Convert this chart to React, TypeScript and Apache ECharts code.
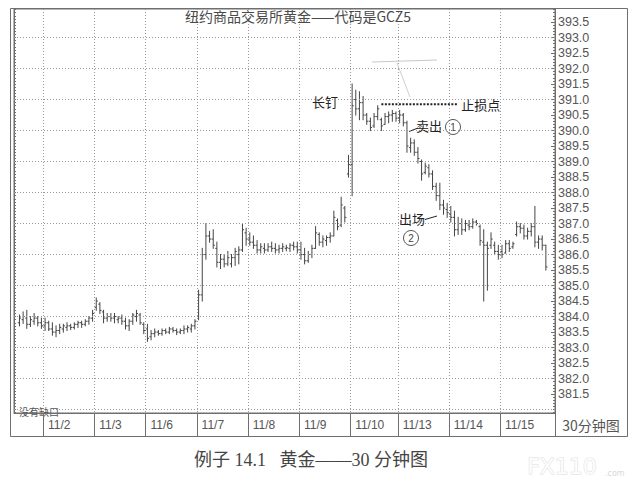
import React, { useEffect, useRef } from 'react';
import * as echarts from 'echarts';

// Trading days shown on the x axis and the number of 30-minute slots each occupies
const dayLabels = ['11/1', '11/2', '11/3', '11/6', '11/7', '11/8', '11/9', '11/10', '11/13', '11/14', '11/15'];
const barsPerDay = [8, 14, 14, 14, 14, 14, 14, 13, 14, 14, 15];
const firstBarSlot = 1;

// OHLC values (30-minute bars)
const opens = [
  383.8, 383.9, 383.95, 383.75, 383.85, 383.95, 383.8,
  383.7, 383.8, 383.6, 383.5, 383.55, 383.6, 383.65, 383.7, 383.65, 383.75, 383.8, 383.75, 383.85, 383.95,
  384.3, 384.4, 384.15, 383.95, 384.0, 383.95, 383.9, 383.95, 383.85, 383.7, 383.85, 384.0, 384.05, 383.75,
  383.6, 383.35, 383.45, 383.5, 383.45, 383.55, 383.5, 383.6, 383.55, 383.5, 383.55, 383.6, 383.6, 383.7,
  384.0, 384.7, 386.0, 386.6, 386.5, 386.2, 385.75, 385.85, 385.7, 385.7, 385.9, 386.0, 386.15, 386.7,
  386.5, 386.4, 386.3, 386.15, 386.2, 386.15, 386.25, 386.2, 386.15, 386.2, 386.2, 386.2, 386.3, 386.25,
  386.15, 386.0, 385.8, 386.0, 386.2, 386.65, 386.4, 386.45, 386.55, 386.6, 387.1, 386.95, 387.5, 388.6,
  388.9, 391.0, 390.7, 390.9, 390.5, 390.3, 390.15, 390.45, 390.35, 390.2, 390.45, 390.5, 390.55,
  390.4, 390.5, 390.25, 389.45, 389.6, 389.3, 389.0, 388.65, 388.8, 388.6, 388.2, 387.9, 387.6, 387.45,
  387.3, 387.2, 386.8, 387.0, 386.8, 386.95, 386.9, 387.05, 386.9, 386.4, 386.3, 386.3, 386.3, 386.1,
  386.1, 386.05, 386.35, 386.25, 386.65, 386.9, 386.85, 386.6, 386.75, 386.9, 386.4, 386.5, 386.3,
];
const highs = [
  384.05, 384.15, 384.2, 384.0, 384.1, 384.0, 383.95,
  383.95, 383.85, 383.8, 383.7, 383.75, 383.75, 383.8, 383.75, 383.8, 383.85, 383.85, 383.9, 384.0, 384.2,
  384.6, 384.45, 384.2, 384.1, 384.1, 384.1, 384.0, 384.05, 383.95, 383.9, 384.1, 384.2, 384.1, 383.8,
  383.75, 383.55, 383.6, 383.55, 383.6, 383.6, 383.65, 383.65, 383.6, 383.6, 383.7, 383.7, 383.75, 383.9,
  384.85, 386.2, 387.0, 386.75, 386.8, 386.4, 386.0, 386.0, 386.1, 386.0, 386.2, 386.25, 387.0, 386.85,
  386.7, 386.6, 386.45, 386.35, 386.35, 386.35, 386.4, 386.35, 386.3, 386.35, 386.3, 386.35, 386.4, 386.4,
  386.4, 386.2, 386.1, 386.3, 386.9, 386.7, 386.6, 386.6, 386.7, 387.4, 387.15, 387.85, 387.55, 389.2,
  391.5, 391.3, 391.25, 391.1, 390.55, 390.4, 390.55, 390.8, 390.4, 390.55, 390.6, 390.65, 390.6,
  390.65, 390.55, 390.3, 389.75, 389.7, 389.45, 389.05, 388.95, 388.9, 388.7, 388.3, 388.3, 387.75, 387.65,
  387.55, 387.4, 387.2, 387.15, 387.1, 387.1, 387.15, 387.1, 386.95, 386.8, 386.4, 386.7, 386.4, 386.3,
  386.3, 386.45, 386.45, 386.4, 387.05, 387.0, 386.95, 386.85, 387.0, 387.55, 386.6, 386.6, 386.3,
];
const lows = [
  383.7, 383.78, 383.62, 383.68, 383.75, 383.7, 383.62,
  383.55, 383.55, 383.4, 383.35, 383.45, 383.5, 383.55, 383.58, 383.6, 383.65, 383.65, 383.7, 383.75, 383.85,
  384.2, 384.1, 383.8, 383.85, 383.85, 383.8, 383.8, 383.75, 383.6, 383.55, 383.75, 383.85, 383.75, 383.45,
  383.2, 383.25, 383.35, 383.4, 383.4, 383.45, 383.45, 383.5, 383.42, 383.45, 383.45, 383.5, 383.5, 383.6,
  383.9, 384.5, 385.85, 386.4, 386.2, 385.6, 385.55, 385.6, 385.65, 385.6, 385.65, 385.7, 386.1, 386.3,
  386.3, 386.2, 386.05, 386.05, 386.05, 386.1, 386.1, 386.05, 386.05, 386.1, 386.12, 386.1, 386.15, 386.05,
  385.85, 385.7, 385.75, 385.9, 386.2, 386.3, 386.25, 386.3, 386.4, 386.6, 386.8, 386.9, 387.05, 388.5,
  387.9, 390.5, 390.35, 390.35, 390.2, 390.0, 390.1, 390.35, 390.0, 390.2, 390.25, 390.3, 390.3,
  390.25, 390.15, 389.3, 389.3, 389.2, 388.95, 388.4, 388.6, 388.5, 388.1, 387.75, 387.45, 387.3, 387.2,
  387.05, 386.6, 386.65, 386.65, 386.75, 386.8, 386.85, 386.95, 386.3, 384.5, 384.85, 386.2, 386.0, 385.85,
  385.9, 386.05, 386.1, 386.2, 386.6, 386.7, 386.5, 386.5, 386.6, 386.25, 386.2, 386.15, 385.5,
];
const closes = [
  383.95, 384.0, 383.75, 383.9, 383.95, 383.8, 383.7,
  383.8, 383.6, 383.5, 383.55, 383.65, 383.7, 383.7, 383.65, 383.75, 383.8, 383.75, 383.85, 383.95, 384.1,
  384.5, 384.2, 383.95, 384.0, 383.95, 384.0, 383.95, 383.85, 383.7, 383.85, 384.05, 384.1, 383.8, 383.55,
  383.3, 383.45, 383.5, 383.45, 383.55, 383.5, 383.6, 383.55, 383.5, 383.55, 383.6, 383.65, 383.7, 383.85,
  384.7, 386.0, 386.6, 386.5, 386.3, 385.75, 385.85, 385.7, 385.9, 385.9, 386.1, 386.15, 386.8, 386.5,
  386.4, 386.3, 386.15, 386.25, 386.15, 386.25, 386.2, 386.15, 386.2, 386.25, 386.22, 386.3, 386.25, 386.15,
  386.0, 385.8, 386.0, 386.2, 386.7, 386.4, 386.5, 386.55, 386.6, 387.2, 386.9, 387.6, 387.2, 388.9,
  390.8, 390.7, 390.9, 390.5, 390.3, 390.1, 390.45, 390.7, 390.15, 390.45, 390.5, 390.55, 390.4,
  390.5, 390.25, 389.5, 389.6, 389.3, 389.1, 388.6, 388.85, 388.6, 388.2, 387.9, 387.6, 387.5, 387.35,
  387.2, 386.8, 387.0, 386.8, 387.0, 386.9, 387.05, 387.0, 386.45, 386.3, 386.2, 386.5, 386.1, 386.0,
  386.0, 386.35, 386.2, 386.35, 386.9, 386.85, 386.6, 386.75, 386.9, 386.4, 386.5, 386.3, 385.6,
];

// Price axis labels (right side) and dotted grid levels
const priceLabels = [
  381.5, 382.0, 382.5, 383.0, 383.5, 384.0, 384.5, 385.0, 385.5, 386.0, 386.5, 387.0, 387.5,
  388.0, 388.5, 389.0, 389.5, 390.0, 390.5, 391.0, 391.5, 392.0, 392.5, 393.0, 393.5,
];
const gridLevels = [381, 382, 383, 384, 385, 386, 387, 388, 389, 390, 391, 392, 393];
const stopPrice = 390.85;

const Y_MIN = 380.89;
const Y_MAX = 393.92;

const GRAY = '#6f6f6f';
const TEXT = '#555';
const SANS = "'Liberation Sans Narrow', 'Liberation Sans', Arial, sans-serif";
const CJK = "'Noto Sans CJK SC', 'Noto Sans', sans-serif";

export default function App() {
  const ref = useRef<HTMLDivElement>(null);

  useEffect(() => {
    if (!ref.current) return;
    const chart = echarts.init(ref.current, null, { renderer: 'svg' });

    const categories: string[] = [];
    const dayStarts: number[] = [];
    dayLabels.forEach((d, k) => {
      dayStarts.push(categories.length);
      for (let j = 0; j < barsPerDay[k]; j++) categories.push(d);
    });
    const isLabeledStart = (i: number) => i > 0 && dayStarts.includes(i);

    const bars = opens.map((o, k) => [k + firstBarSlot, o, highs[k], lows[k], closes[k]]);

    const minorTicks: number[] = [];
    for (let v = Math.ceil(Y_MIN * 10); v <= Math.floor(Y_MAX * 10); v++) minorTicks.push(v / 10);

    const option: any = {
      animation: false,
      backgroundColor: '#fff',
      grid: { left: 14, right: 77, top: 9, bottom: 77, show: true, borderColor: GRAY, borderWidth: 1 },
      xAxis: {
        type: 'category',
        data: categories,
        boundaryGap: true,
        axisLine: { show: true, lineStyle: { color: GRAY } },
        axisTick: { show: true, interval: (i: number) => isLabeledStart(i), length: 24, lineStyle: { color: GRAY } },
        axisLabel: {
          show: true,
          interval: (i: number) => isLabeledStart(i),
          align: 'left',
          padding: [0, 0, 0, 3],
          margin: 6,
          color: TEXT,
          fontSize: 12,
          fontFamily: SANS,
        },
        splitLine: {
          show: true,
          interval: (i: number) => isLabeledStart(i),
          lineStyle: { color: '#9a9a9a', type: [1, 2], width: 1 },
        },
      },
      yAxis: [
        {
          type: 'value', position: 'right', min: Y_MIN, max: Y_MAX,
          axisLine: { show: true, lineStyle: { color: GRAY } },
          axisTick: { show: true, inside: true, length: 4, customValues: priceLabels, lineStyle: { color: GRAY } },
          axisLabel: {
            show: true, customValues: priceLabels, formatter: (v: number) => v.toFixed(1),
            margin: 3, color: TEXT, fontSize: 12.5, fontFamily: SANS,
          },
          splitLine: { show: false },
        },
        {
          type: 'value', position: 'right', min: Y_MIN, max: Y_MAX,
          axisLine: { show: false },
          axisTick: { show: true, inside: true, length: 2, customValues: minorTicks, lineStyle: { color: GRAY } },
          axisLabel: { show: false },
          splitLine: { show: false },
        },
        {
          type: 'value', position: 'left', min: Y_MIN, max: Y_MAX,
          axisLine: { show: true, lineStyle: { color: GRAY } },
          axisTick: { show: true, inside: true, length: 2, customValues: minorTicks, lineStyle: { color: GRAY } },
          axisLabel: { show: false },
          splitLine: { show: false },
        },
      ],
      series: [
        {
          type: 'custom',
          yAxisIndex: 0,
          data: bars,
          encode: { x: 0, y: [1, 2, 3, 4] },
          renderItem: (params: any, api: any) => {
            const i = api.value(0);
            const o = api.value(1), h = api.value(2), l = api.value(3), c = api.value(4);
            const ph = api.coord([i, h]);
            const pl = api.coord([i, l]);
            const po = api.coord([i, o]);
            const pc = api.coord([i, c]);
            const st = { stroke: '#454545', lineWidth: 1 };
            const t = 1.6;
            return {
              type: 'group',
              children: [
                { type: 'line', shape: { x1: ph[0], y1: ph[1] - 0.5, x2: pl[0], y2: pl[1] + 0.5 }, style: st },
                { type: 'line', shape: { x1: po[0] - t, y1: po[1], x2: po[0], y2: po[1] }, style: st },
                { type: 'line', shape: { x1: pc[0], y1: pc[1], x2: pc[0] + t, y2: pc[1] }, style: st },
              ],
            };
          },
          markLine: {
            silent: true,
            symbol: ['none', 'none'],
            label: { show: false },
            lineStyle: { color: '#9a9a9a', type: [1, 2], width: 1 },
            data: gridLevels.map((p) => ({ yAxis: p })),
          },
          z: 3,
        },
      ],
    };
    chart.setOption(option);

    const px = (i: number, p: number) => chart.convertToPixel({ gridIndex: 0 }, [i, p]) as number[];
    const stopA = px(100, stopPrice);
    const stopB = px(120.6, stopPrice);

    chart.setOption({
      graphic: [
        { type: 'rect', shape: { x: 10.5, y: 8.5, width: 617, height: 428 }, style: { fill: 'none', stroke: GRAY, lineWidth: 1 }, silent: true },
        { type: 'line', shape: { x1: 555.5, y1: 413, x2: 555.5, y2: 437 }, style: { stroke: GRAY, lineWidth: 1 } },
        {
          type: 'text', x: 298, y: 16,
          style: { text: '纽约商品交易所黄金——代码是GCZ5', fontSize: 14, fontFamily: CJK, fill: '#4a4a4a', align: 'center', verticalAlign: 'middle' },
        },
        {
          type: 'text', x: 591, y: 425,
          style: { text: '30分钟图', fontSize: 14, fontFamily: CJK, fill: TEXT, align: 'center', verticalAlign: 'middle' },
        },
        {
          type: 'text', x: 19, y: 411,
          style: { text: '没有缺口', fontSize: 10, fontFamily: CJK, fill: TEXT, align: 'left', verticalAlign: 'middle' },
        },
        {
          type: 'text', x: 325, y: 101,
          style: { text: '长钉', fontSize: 13, fontFamily: CJK, fill: '#222', align: 'center', verticalAlign: 'middle' },
        },
        {
          type: 'line', shape: { x1: stopA[0], y1: stopA[1], x2: stopB[0], y2: stopB[1] },
          style: { stroke: '#222', lineWidth: 2, lineDash: [2, 1.5] },
        },
        {
          type: 'text', x: stopB[0] + 3, y: stopB[1],
          style: { text: '止损点', fontSize: 13, fontFamily: CJK, fill: '#222', align: 'left', verticalAlign: 'middle' },
        },
        { type: 'line', shape: { x1: 409, y1: 131.5, x2: 418, y2: 128 }, style: { stroke: '#222', lineWidth: 1 } },
        {
          type: 'text', x: 429, y: 125,
          style: { text: '卖出', fontSize: 13, fontFamily: CJK, fill: '#222', align: 'center', verticalAlign: 'middle' },
        },
        { type: 'circle', shape: { cx: 453, cy: 127, r: 7.5 }, style: { fill: 'none', stroke: '#555', lineWidth: 1 } },
        { type: 'text', x: 453, y: 127, style: { text: '1', fontSize: 10, fontFamily: SANS, fill: '#444', align: 'center', verticalAlign: 'middle' } },
        {
          type: 'text', x: 412, y: 218,
          style: { text: '出场', fontSize: 13, fontFamily: CJK, fill: '#222', align: 'center', verticalAlign: 'middle' },
        },
        { type: 'line', shape: { x1: 425, y1: 219.5, x2: 437, y2: 216 }, style: { stroke: '#222', lineWidth: 1 } },
        { type: 'circle', shape: { cx: 411, cy: 238, r: 7.5 }, style: { fill: 'none', stroke: '#555', lineWidth: 1 } },
        { type: 'text', x: 411, y: 238, style: { text: '2', fontSize: 10, fontFamily: SANS, fill: '#444', align: 'center', verticalAlign: 'middle' } },
        { type: 'line', shape: { x1: 372, y1: 62, x2: 437, y2: 60 }, style: { stroke: '#c8c8c8', lineWidth: 1 } },
        { type: 'line', shape: { x1: 397, y1: 63, x2: 410, y2: 97 }, style: { stroke: '#d0d0d0', lineWidth: 1 } },
        {
          type: 'text', x: 311, y: 460,
          style: { text: '例子 14.1   黄金——30 分钟图', fontSize: 18, fontFamily: "'Liberation Serif', 'DejaVu Serif', 'Noto Sans CJK SC', serif", fill: '#444', align: 'center', verticalAlign: 'middle' },
        },
        {
          type: 'text', x: 562, y: 466,
          style: { text: 'FX110', fontSize: 22, fontFamily: "'DejaVu Sans', sans-serif", fill: '#fdfdfd', stroke: '#dcdcdc', lineWidth: 1, align: 'center', verticalAlign: 'middle' },
        },
        {
          type: 'text', x: 605, y: 473,
          style: { text: '.com', fontSize: 8, fontFamily: "'DejaVu Sans', sans-serif", fill: '#d8d8d8', align: 'left', verticalAlign: 'middle' },
        },
      ],
    });

    return () => chart.dispose();
  }, []);

  return (
    <div
      ref={ref}
      style={{ position: 'fixed', left: 0, top: 0, width: 632, height: 490, background: '#fff' }}
    />
  );
}
